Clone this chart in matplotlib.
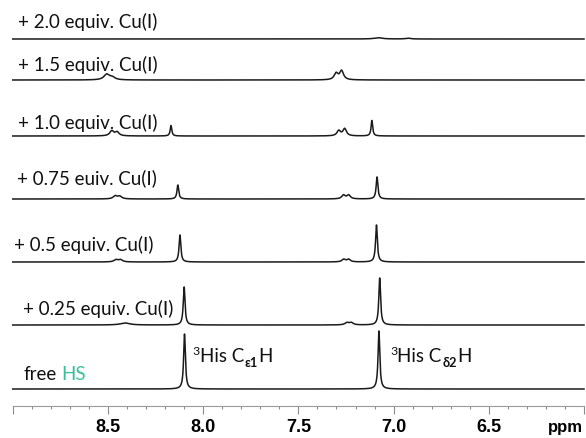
import numpy as np
import matplotlib
matplotlib.use("Agg")
import matplotlib.pyplot as plt
from matplotlib.ticker import MultipleLocator, FixedLocator, FixedFormatter

# ---- peak lists for each titration step: centre (ppm), height, FWHM (ppm) ----
free_ppm = [8.098, 7.077]
free_int = [55, 58]
free_fwhm = [0.011, 0.011]

cu025_ppm = [8.100, 7.073, 8.41, 7.245, 7.222]
cu025_int = [38, 47, 2.0, 2.2, 2.2]
cu025_fwhm = [0.011, 0.011, 0.06, 0.025, 0.025]

cu05_ppm = [8.122, 7.090, 8.458, 8.434, 7.262, 7.236]
cu05_int = [27, 37, 2.2, 2.2, 2.6, 2.6]
cu05_fwhm = [0.011, 0.011, 0.025, 0.025, 0.022, 0.022]

cu075_ppm = [8.133, 7.087, 8.462, 8.438, 7.263, 7.236]
cu075_int = [14, 22, 3.0, 2.6, 3.8, 3.8]
cu075_fwhm = [0.011, 0.011, 0.025, 0.025, 0.022, 0.022]

cu10_ppm = [8.169, 7.114, 8.480, 8.452, 7.288, 7.257]
cu10_int = [10.5, 15.5, 5.0, 3.8, 5.2, 7.2]
cu10_fwhm = [0.010, 0.010, 0.025, 0.025, 0.022, 0.022]

cu15_ppm = [8.507, 8.478, 7.302, 7.273]
cu15_int = [5.5, 2.5, 6.5, 9.0]
cu15_fwhm = [0.035, 0.035, 0.024, 0.024]

cu20_ppm = [7.080, 6.925]
cu20_int = [1.3, 0.8]
cu20_fwhm = [0.05, 0.03]

tick_values = [8.5, 8.0, 7.5, 7.0, 6.5]
tick_labels = ["8.5", "8.0", "7.5", "7.0", "6.5"]

spectra = [
    (free_ppm, free_int, free_fwhm),
    (cu025_ppm, cu025_int, cu025_fwhm),
    (cu05_ppm, cu05_int, cu05_fwhm),
    (cu075_ppm, cu075_int, cu075_fwhm),
    (cu10_ppm, cu10_int, cu10_fwhm),
    (cu15_ppm, cu15_int, cu15_fwhm),
    (cu20_ppm, cu20_int, cu20_fwhm),
]
step_labels = [None, "+ 0.25 equiv. Cu(I)", "+ 0.5 equiv. Cu(I)",
               "+ 0.75 euiv. Cu(I)", "+ 1.0 equiv. Cu(I)",
               "+ 1.5 equiv. Cu(I)", "+ 2.0 equiv. Cu(I)"]

# vertical stacking offsets of each trace and label anchor points
offsets = [17, 81, 144, 207, 270, 326, 367]
label_pos = [None, (8.946, 98), (8.993, 162), (8.978, 229),
             (8.972, 284), (8.972, 342), (8.972, 385)]

W, H = 586, 439
fig = plt.figure(figsize=(W / 100, H / 100), dpi=100)
x_left, x_right = 12.75, 584.0
ax = fig.add_axes([x_left / W, 32 / H, (x_right - x_left) / W, 1 - 32 / H])
ax.set_xlim(9.0, 6.0)
ax.set_ylim(0, 407)

grid = np.linspace(9.0, 6.0, 6001)


def lorentz_sum(centres, heights, widths):
    y = np.zeros_like(grid)
    for c, h, w in zip(centres, heights, widths):
        y += h / (1.0 + ((grid - c) / (w / 2.0)) ** 2)
    return y


for (c, h, w), off in zip(spectra, offsets):
    ax.plot(grid, off + lorentz_sum(c, h, w), color="#1a1a1a", lw=1.1,
            solid_joinstyle="round", clip_on=False)

label_font = ["Lato", "DejaVu Sans"]
fs = 13.5
for lab, pos in zip(step_labels, label_pos):
    if lab is None:
        continue
    ax.text(pos[0], pos[1], lab, fontsize=fs, family=label_font,
            ha="left", va="center", color="#111111")

# "free HS" label with coloured HS
t_free = ax.text(8.946, 27, "free", fontsize=fs, family=label_font,
                 ha="left", va="baseline", color="#111111")
ax.annotate("HS", xy=(1, 0), xycoords=t_free, xytext=(3.6, 0),
            textcoords="offset points", fontsize=fs, family=label_font,
            ha="left", va="bottom", color="#3cbf9b")


def residue_label(x, y, greek):
    sup = ax.annotate("3", xy=(x, y), xycoords="data", xytext=(0, 5.0),
                      textcoords="offset points", fontsize=fs * 0.66,
                      family=label_font, ha="left", va="baseline",
                      color="#111111")
    main = ax.annotate("His C", xy=(1, y), xycoords=(sup, "data"),
                       xytext=(0.2, 0), textcoords="offset points",
                       fontsize=fs, family=label_font, ha="left",
                       va="baseline", color="#111111")
    sub = ax.annotate(greek, xy=(1, 0), xycoords=main, xytext=(0.3, -2.8),
                      textcoords="offset points", fontsize=fs * 0.68,
                      family=label_font, fontweight="bold",
                      ha="left", va="bottom", color="#111111")
    ax.annotate("H", xy=(1, 0), xycoords=(sub, main), xytext=(0.3, 0),
                textcoords="offset points", fontsize=fs, family=label_font,
                ha="left", va="bottom", color="#111111")


residue_label(8.058, 45, "\u03b51")
residue_label(7.019, 45, "\u03b42")

# axis styling: only a grey ppm scale at the bottom
for side in ("left", "right", "top"):
    ax.spines[side].set_visible(False)
ax.spines["bottom"].set_color("#9a9a9a")
ax.spines["bottom"].set_linewidth(0.8)
ax.yaxis.set_visible(False)
major_ticks = [9.0] + tick_values + [6.0]
ax.xaxis.set_major_locator(FixedLocator(major_ticks))
ax.xaxis.set_major_formatter(FixedFormatter([""] + tick_labels + [""]))
ax.xaxis.set_minor_locator(MultipleLocator(0.1))
ax.tick_params(axis="x", which="major", direction="out", length=5.8,
               width=0.8, color="#8c8c8c", pad=2.5, labelsize=13)
ax.tick_params(axis="x", which="minor", direction="out", length=2.2,
               width=0.8, color="#8c8c8c")
for lbl in ax.get_xticklabels():
    lbl.set_fontfamily("Liberation Sans")
    lbl.set_fontweight("bold")

ax.text(6.096, -21, "ppm", fontsize=12, family="Liberation Sans",
        fontweight="bold", ha="center", va="center", clip_on=False)

fig.savefig("out.png", dpi=100)
